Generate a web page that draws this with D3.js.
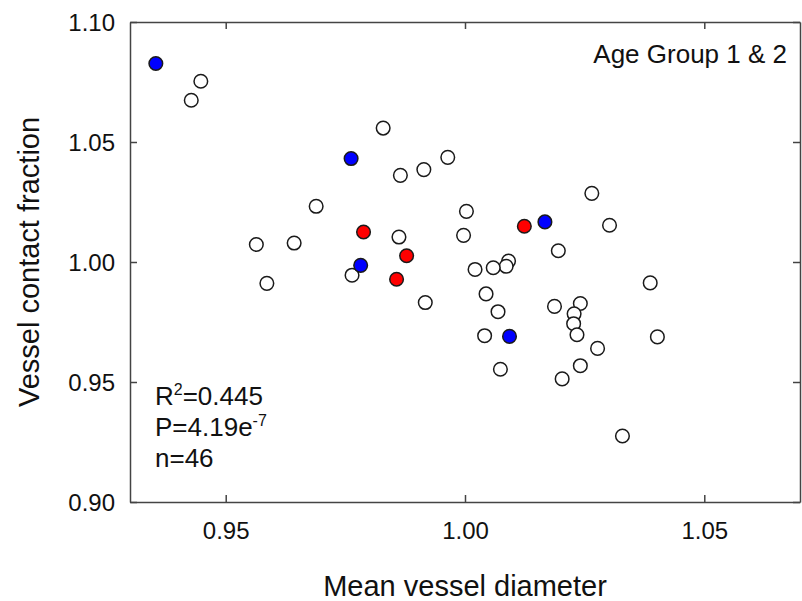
<!DOCTYPE html>
<html>
<head>
<meta charset="utf-8">
<script src="https://cdn.jsdelivr.net/npm/d3@7"></script>
<style>
  html, body { margin: 0; padding: 0; background: #fff; }
  svg { display: block; font-family: "Liberation Sans", Arial, sans-serif; }
</style>
</head>
<body>
<div id="chart"></div>
<script>
// 数据：三组散点（空心 / 蓝 / 红）
const openX = [0.9448, 0.9428, 0.9829, 0.9964, 0.9914, 0.9865, 1.0265, 0.9689, 1.0003, 1.0302,
               0.9862, 0.9997, 0.9643, 0.9564, 1.0195, 1.0091, 1.0086, 1.0059, 1.0021, 0.9764,
               1.0387, 0.9586, 1.0044, 0.9917, 1.0241, 1.0187, 1.0069, 1.0228, 1.0227, 1.0234,
               1.0041, 1.0402, 1.0277, 1.0241, 1.0074, 1.0203, 1.0329];
const openY = [1.0753, 1.0674, 1.0558, 1.0436, 1.0385, 1.0361, 1.0286, 1.0232, 1.0211, 1.0153,
               1.0104, 1.0111, 1.0079, 1.0073, 1.0047, 1.0004, 0.9982, 0.9976, 0.9969, 0.9945,
               0.9913, 0.9911, 0.9867, 0.9831, 0.9827, 0.9815, 0.9793, 0.9784, 0.9743, 0.9697,
               0.9693, 0.9688, 0.9640, 0.9568, 0.9553, 0.9513, 0.9275];
const blueX = [0.9354, 0.9762, 1.0167, 0.9782, 1.0093];
const blueY = [1.0827, 1.0431, 1.0167, 0.9986, 0.9690];
const redX = [1.0124, 0.9788, 0.9878, 0.9857];
const redY = [1.0149, 1.0125, 1.0026, 0.9928];

const xTicks = [0.95, 1.00, 1.05];
const yTicks = [0.90, 0.95, 1.00, 1.05, 1.10];
const statLines = ['R', 'P=4.19e', 'n=46'];

const width = 802, height = 601;
const plot = { left: 130, right: 800, top: 22, bottom: 502 };

const svg = d3.select('#chart').append('svg')
    .attr('width', width)
    .attr('height', height);

const x = d3.scaleLinear().domain([0.93, 1.07]).range([plot.left, plot.right]);
const y = d3.scaleLinear().domain([0.90, 1.10]).range([plot.bottom, plot.top]);

const axisColor = '#444';
const tickLen = 7;

// 坐标轴（刻度朝内）
const gx = svg.append('g')
    .attr('transform', `translate(0,${plot.bottom})`)
    .call(d3.axisBottom(x).tickValues(xTicks).tickSizeInner(-tickLen).tickSizeOuter(0).tickPadding(20).tickFormat(d3.format('.2f')));
const gxTop = svg.append('g')
    .attr('transform', `translate(0,${plot.top})`)
    .call(d3.axisTop(x).tickValues(xTicks).tickSizeInner(-tickLen).tickSizeOuter(0).tickFormat(''));
const gy = svg.append('g')
    .attr('transform', `translate(${plot.left},0)`)
    .call(d3.axisLeft(y).tickValues(yTicks).tickSizeInner(-tickLen).tickSizeOuter(0).tickPadding(15).tickFormat(d3.format('.2f')));
const gyRight = svg.append('g')
    .attr('transform', `translate(${plot.right},0)`)
    .call(d3.axisRight(y).tickValues(yTicks).tickSizeInner(-tickLen).tickSizeOuter(0).tickFormat(''));

[gx, gxTop, gy, gyRight].forEach(g => {
    g.select('.domain').attr('stroke', axisColor).attr('stroke-width', 1.5);
    g.selectAll('.tick line').attr('stroke', axisColor).attr('stroke-width', 1.5);
    g.selectAll('.tick text')
        .attr('fill', '#111')
        .style('font-size', '24px')
        .style('font-family', '"Liberation Sans", Arial, sans-serif');
});
gy.selectAll('.tick text').attr('dy', '0.35em');

// 散点
function drawPoints(xs, ys, fill) {
    svg.append('g')
        .selectAll('circle')
        .data(xs.map((v, i) => [v, ys[i]]))
        .join('circle')
        .attr('cx', d => x(d[0]))
        .attr('cy', d => y(d[1]))
        .attr('r', 6.8)
        .attr('fill', fill)
        .attr('stroke', '#1a1a1a')
        .attr('stroke-width', 1.5);
}
drawPoints(openX, openY, '#ffffff');
drawPoints(blueX, blueY, '#0000ff');
drawPoints(redX, redY, '#ff0000');

// 轴标题
svg.append('text')
    .attr('x', (plot.left + plot.right) / 2)
    .attr('y', 596)
    .attr('text-anchor', 'middle')
    .style('font-size', '29px')
    .attr('fill', '#111')
    .text('Mean vessel diameter');

svg.append('text')
    .attr('transform', `translate(39,${(plot.top + plot.bottom) / 2}) rotate(-90)`)
    .attr('text-anchor', 'middle')
    .style('font-size', '29px')
    .attr('fill', '#111')
    .text('Vessel contact fraction');

// 标注
svg.append('text')
    .attr('x', 787)
    .attr('y', 63)
    .attr('text-anchor', 'end')
    .style('font-size', '26px')
    .attr('fill', '#111')
    .text('Age Group 1 & 2');

const stats = svg.append('g').style('font-size', '26px').attr('fill', '#111');
const t1 = stats.append('text').attr('x', 155).attr('y', 405);
t1.append('tspan').text(statLines[0]);
t1.append('tspan').attr('dy', -10).style('font-size', '16px').text('2');
t1.append('tspan').attr('dy', 10).text('=0.445');
const t2 = stats.append('text').attr('x', 155).attr('y', 436);
t2.append('tspan').text(statLines[1]);
t2.append('tspan').attr('dy', -10).style('font-size', '16px').text('-7');
const t3 = stats.append('text').attr('x', 155).attr('y', 467);
t3.append('tspan').text(statLines[2]);
</script>
</body>
</html>
